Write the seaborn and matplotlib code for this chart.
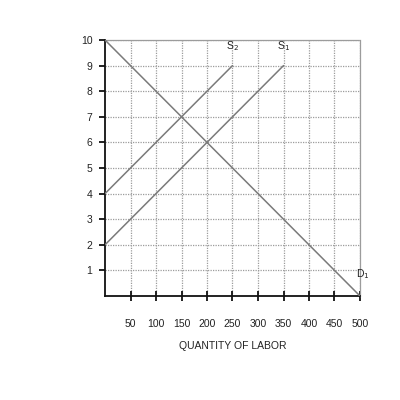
import matplotlib
matplotlib.use("Agg")
import matplotlib.pyplot as plt
import seaborn as sns
import pandas as pd

# Data
d1_x = [0, 500]
d1_y = [10, 0]
s1_x = [0, 350]
s1_y = [2, 9]
s2_x = [0, 250]
s2_y = [4, 9]
x_ticks = [50, 100, 150, 200, 250, 300, 350, 400, 450, 500]
y_ticks = [1, 2, 3, 4, 5, 6, 7, 8, 9, 10]
x_label = "QUANTITY OF LABOR"

sns.set_style("white")
plt.rcParams['font.family'] = ['Liberation Sans', 'DejaVu Sans']

fig = plt.figure(figsize=(4, 4), dpi=100)
ax = fig.add_axes([0.2625, 0.26, 0.6375, 0.64])

df = pd.concat([
    pd.DataFrame({"x": d1_x, "y": d1_y, "curve": "D1"}),
    pd.DataFrame({"x": s1_x, "y": s1_y, "curve": "S1"}),
    pd.DataFrame({"x": s2_x, "y": s2_y, "curve": "S2"}),
])
sns.lineplot(data=df, x="x", y="y", units="curve", estimator=None,
             color="#7a7a7a", lw=1.1, ax=ax, legend=False, zorder=3)

ax.set_xlim(0, 500)
ax.set_ylim(0, 10)
ax.set_xticks(x_ticks)
ax.set_yticks(y_ticks)
ax.grid(True, linestyle=(0, (1, 1)), color="#9c9c9c", lw=0.9)
for s in ["top", "right"]:
    ax.spines[s].set_linestyle((0, (1, 1)))
    ax.spines[s].set_color("#9c9c9c")
    ax.spines[s].set_linewidth(0.9)
for s in ["left", "bottom"]:
    ax.spines[s].set_color("#111111")
    ax.spines[s].set_linewidth(1.3)
ax.tick_params(axis="x", bottom=True, direction="inout", length=7, width=1.3, pad=13,
               labelsize=7.5, colors="#111111", labelcolor="#222222")
ax.tick_params(axis="y", left=True, direction="out", length=4, width=1.3, pad=5,
               labelsize=7.5, colors="#111111", labelcolor="#222222")
ax.set_xlabel(x_label, fontsize=7.5, color="#222222", labelpad=9)
ax.set_ylabel("")

ax.text(250, 9.75, "S$_2$", fontsize=7.5, ha="center", va="center", color="#222222")
ax.text(350, 9.75, "S$_1$", fontsize=7.5, ha="center", va="center", color="#222222")
ax.text(505, 0.85, "D$_1$", fontsize=7.5, ha="center", va="center", color="#222222")

fig.savefig("out.png", dpi=100)
